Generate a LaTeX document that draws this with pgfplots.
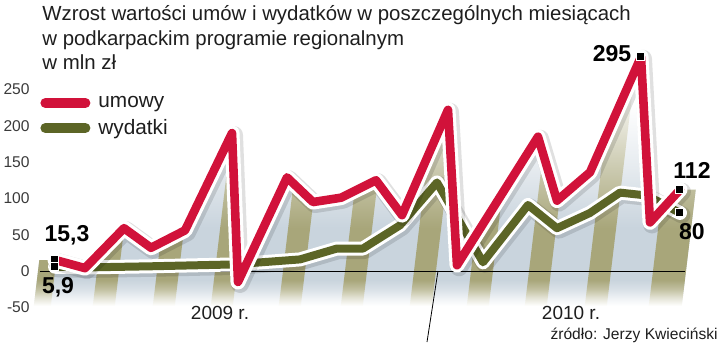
\documentclass[border=0pt]{standalone}
\usepackage{fontspec}
\setmainfont{Liberation Sans}
\usepackage{pgfplots}
\usepackage{pgfplotstable}
\pgfplotsset{compat=1.18}

\definecolor{umred}{HTML}{D1123A}
\definecolor{wydgreen}{HTML}{5C6526}
\definecolor{olivestripe}{HTML}{A8A67A}
\definecolor{lightstripe}{HTML}{C9D4DD}
\definecolor{titlecol}{HTML}{1E1E1E}
\definecolor{tickcol}{HTML}{3A3A3A}

\pgfdeclareverticalshading{olivefade}{100bp}{color(0bp)=(white); color(25bp)=(white); color(26.5bp)=(olivestripe!30!white); color(28.2bp)=(olivestripe!70!white); color(30bp)=(olivestripe); color(40bp)=(olivestripe); color(48.5bp)=(olivestripe!70!white); color(58.3bp)=(olivestripe!35!white); color(68bp)=(white); color(100bp)=(white)}
\pgfdeclareverticalshading{lightfade}{100bp}{color(0bp)=(white); color(25bp)=(white); color(26.5bp)=(lightstripe!30!white); color(28.2bp)=(lightstripe!70!white); color(30bp)=(lightstripe); color(40bp)=(lightstripe); color(52bp)=(lightstripe!45!white); color(64bp)=(white); color(100bp)=(white)}

\pgfplotstableread{
x y
55 15.3
85 4
124 59
151 32
185 56
232 190
238 -15
287 129
313 95
341 101
376 125
402 77
448 222
457 8
538 185
557 97
590 136
641 295
650 67
680 112
}\umowy

\pgfplotstableread{
x y
55 5.9
88 5
150 6.5
232 9
300 16
337 31
363 31
400 63
437 122
483 12
528 91
557 59
590 80
620 108
647 104
680 80
}\wydatki

\begin{document}
\begin{tikzpicture}
\begin{axis}[
  x=0.5pt, y=0.363pt,
  xmin=0, xmax=720, ymin=-106.1, ymax=373.3,
  enlargelimits=false,
  clip=false,
  axis line style={draw=none},
  xtick=\empty,
  ytick={-50,0,50,100,150,200,250},
  tick style={draw=none},
  /pgf/number format/assume math mode=true,
  yticklabel style={anchor=east, inner sep=0pt, xshift=15pt, font=\fontsize{7.8}{9}\selectfont, text=tickcol},
  legend style={at={(axis cs:40,246)}, anchor=north west, draw=none, fill=none, inner sep=0pt, row sep=1.5pt, font=\fontsize{10.4}{12}\selectfont, text=titlecol, nodes={inner sep=1.5pt}, /tikz/every odd column/.append style={column sep=2.5pt}},
  legend cell align=left,
  legend image code/.code={\draw[#1, line cap=round] (2.5pt,0pt) -- (22.5pt,0pt);},
]
\addlegendimage{umred, line width=5pt}\addlegendentry{umowy}
\addlegendimage{wydgreen, line width=5pt}\addlegendentry{wydatki}

% striped background band
\addplot[forget plot, draw=none, shading=lightfade] coordinates {(33.82,-48)(681.82,-48)(712.97,310)(64.97,310)};
\addplot[forget plot, draw=none, shading=olivefade] coordinates {(33.82,-48)(50.82,-48)(81.97,310)(64.97,310)};
\addplot[forget plot, draw=none, shading=olivefade] coordinates {(92.82,-48)(114.82,-48)(145.97,310)(123.97,310)};
\addplot[forget plot, draw=none, shading=olivefade] coordinates {(152.82,-48)(174.82,-48)(205.97,310)(183.97,310)};
\addplot[forget plot, draw=none, shading=olivefade] coordinates {(210.82,-48)(232.82,-48)(263.97,310)(241.97,310)};
\addplot[forget plot, draw=none, shading=olivefade] coordinates {(278.82,-48)(300.82,-48)(331.97,310)(309.97,310)};
\addplot[forget plot, draw=none, shading=olivefade] coordinates {(340.82,-48)(362.82,-48)(393.97,310)(371.97,310)};
\addplot[forget plot, draw=none, shading=olivefade] coordinates {(409.82,-48)(431.82,-48)(462.97,310)(440.97,310)};
\addplot[forget plot, draw=none, shading=olivefade] coordinates {(466.82,-48)(488.82,-48)(519.97,310)(497.97,310)};
\addplot[forget plot, draw=none, shading=olivefade] coordinates {(524.82,-48)(546.82,-48)(577.97,310)(555.97,310)};
\addplot[forget plot, draw=none, shading=olivefade] coordinates {(584.82,-48)(606.82,-48)(637.97,310)(615.97,310)};
\addplot[forget plot, draw=none, shading=olivefade] coordinates {(648.82,-48)(681.82,-48)(712.97,310)(679.97,310)};

% white area above the umowy line
\addplot[forget plot, draw=none, fill=white] coordinates {(34,15.3)(55,15.3)(85,4)(124,59)(151,32)(185,56)(232,190)(238,-15)(287,129)(313,95)(341,101)(376,125)(402,77)(448,222)(457,8)(538,185)(557,97)(590,136)(641,295)(650,67)(680,112)(720,112)(720,372)(34,372)};

% zero line and year separator
\addplot[forget plot, black, line width=0.5pt] coordinates {(40,0)(685,0)};
\draw[black, line width=0.4pt] (axis cs:438,0) -- (axis cs:427,-97.8);

% wydatki
\addplot[forget plot, draw=black, opacity=0.12, line width=8.5pt, line join=round, line cap=round, xshift=1pt, yshift=-1pt] table[x=x,y=y] {\wydatki};
\addplot[forget plot, draw=white, line width=7pt, line join=round, line cap=round] table[x=x,y=y] {\wydatki};
\addplot[forget plot, draw=wydgreen, line width=4pt, line join=round, line cap=round] table[x=x,y=y] {\wydatki};

% umowy
\addplot[forget plot, draw=black, opacity=0.12, line width=9pt, line join=round, line cap=round, xshift=1pt, yshift=-1pt] table[x=x,y=y] {\umowy};
\addplot[forget plot, draw=white, line width=7.5pt, line join=round, line cap=round] table[x=x,y=y] {\umowy};
\addplot[forget plot, draw=umred, line width=4.3pt, line join=round, line cap=round] table[x=x,y=y] {\umowy};

% end markers
\addplot[forget plot, only marks, mark=square*, mark size=2pt, mark options={fill=black, draw=white, line width=0.5pt}] coordinates {(55,15.3)(641,295)(680,112)(55,5.9)(680,80)};

% value labels
\node[font=\bfseries\fontsize{11.5}{13}\selectfont, inner sep=0pt] at (axis cs:67,49.6) {15,3};
\node[font=\bfseries\fontsize{11.5}{13}\selectfont, inner sep=0pt] at (axis cs:58,-22) {5,9};
\node[font=\bfseries\fontsize{11.5}{13}\selectfont, inner sep=0pt] at (axis cs:612,300) {295};
\node[font=\bfseries\fontsize{11.5}{13}\selectfont, inner sep=0pt] at (axis cs:692,139) {112};
\node[font=\bfseries\fontsize{11.5}{13}\selectfont, inner sep=0pt] at (axis cs:692,55) {80};

% title
\node[anchor=base west, inner sep=0pt, font=\fontsize{10.2}{12}\selectfont, text=titlecol] at (axis cs:42,345.7) {Wzrost wartości umów i wydatków w poszczególnych miesiącach};
\node[anchor=base west, inner sep=0pt, font=\fontsize{10.2}{12}\selectfont, text=titlecol] at (axis cs:42,311.3) {w podkarpackim programie regionalnym};
\node[anchor=base west, inner sep=0pt, font=\fontsize{10.2}{12}\selectfont, text=titlecol] at (axis cs:42,276.9) {w mln zł};

% years and source
\node[inner sep=0pt, font=\fontsize{9.5}{11}\selectfont, text=titlecol] at (axis cs:220,-57.9) {2009 r.};
\node[inner sep=0pt, font=\fontsize{9.5}{11}\selectfont, text=titlecol] at (axis cs:571,-57.9) {2010 r.};
\node[anchor=east, inner sep=0pt, font=\fontsize{7.8}{9}\selectfont, text=titlecol] at (axis cs:718,-88) {źródło: Jerzy Kwieciński};

\path (axis cs:0,-106.1) rectangle (axis cs:720,373.3);
\end{axis}
\end{tikzpicture}
\end{document}
